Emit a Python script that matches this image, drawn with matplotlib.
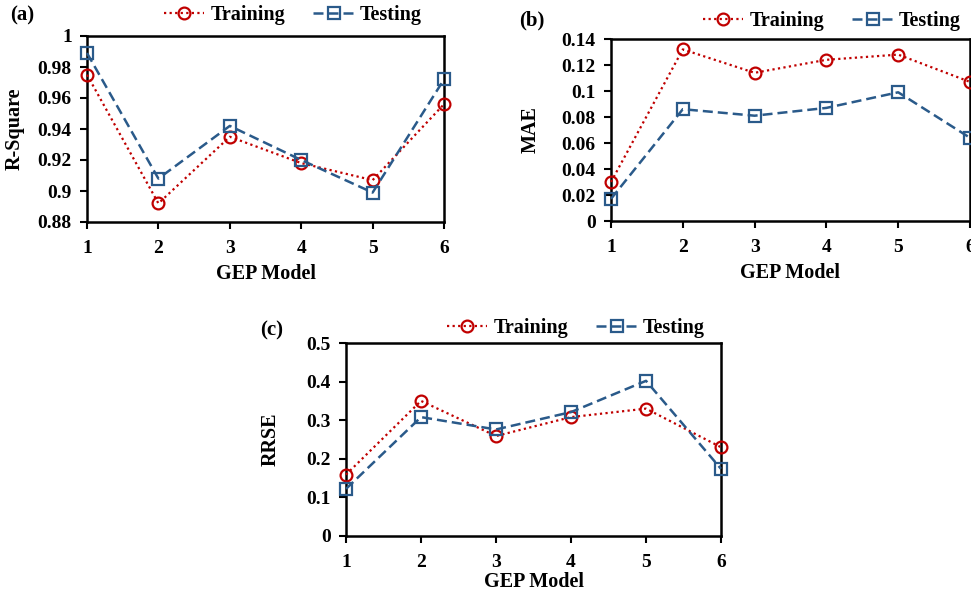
import matplotlib
matplotlib.use("Agg")
import matplotlib.pyplot as plt

plt.rcParams["font.family"] = ["Liberation Serif", "DejaVu Serif"]
plt.rcParams["font.weight"] = "bold"

models = [1, 2, 3, 4, 5, 6]

r2_train = [0.975, 0.892, 0.935, 0.918, 0.907, 0.956]
r2_test = [0.989, 0.908, 0.942, 0.920, 0.899, 0.972]

mae_train = [0.030, 0.132, 0.114, 0.124, 0.128, 0.107]
mae_test = [0.017, 0.086, 0.081, 0.087, 0.099, 0.064]

rrse_train = [0.159, 0.350, 0.259, 0.308, 0.330, 0.230]
rrse_test = [0.122, 0.308, 0.276, 0.321, 0.402, 0.174]

r2_ticks = [0.88, 0.9, 0.92, 0.94, 0.96, 0.98, 1.0]
r2_ticklabels = ["0.88", "0.9", "0.92", "0.94", "0.96", "0.98", "1"]
mae_ticks = [0, 0.02, 0.04, 0.06, 0.08, 0.1, 0.12, 0.14]
mae_ticklabels = ["0", "0.02", "0.04", "0.06", "0.08", "0.1", "0.12", "0.14"]
rrse_ticks = [0, 0.1, 0.2, 0.3, 0.4, 0.5]
rrse_ticklabels = ["0", "0.1", "0.2", "0.3", "0.4", "0.5"]

RED = "#C00000"
BLUE = "#2A5A8A"

W, H = 971, 594
fig = plt.figure(figsize=(W / 100, H / 100), dpi=100)


def px_axes(x0, y0, x1, y1):
    return fig.add_axes([x0 / W, 1 - y1 / H, (x1 - x0) / W, (y1 - y0) / H])


def panel(ax, train, test, ticks, ticklabels, ylabel, tag, leg_x, leg_y, tag_xy,
          ylab_right_px, xpad, xlabpad):
    ax.plot(models, train, color=RED, linestyle=(0, (1, 1.5)), linewidth=1.6,
            marker="o", markersize=8.5, markerfacecolor="none",
            markeredgecolor=RED, markeredgewidth=1.6, label="Training", clip_on=False, zorder=3)
    ax.plot(models, test, color=BLUE, linestyle=(0, (4, 2)), linewidth=1.8,
            marker="s", markersize=8.5, markerfacecolor="none",
            markeredgecolor=BLUE, markeredgewidth=1.6, label="Testing", clip_on=False, zorder=3)
    ax.set_xlim(1, 6)
    ax.set_ylim(ticks[0], ticks[-1])
    ax.set_xticks(models)
    ax.set_yticks(ticks)
    ax.set_yticklabels(ticklabels)
    ax.tick_params(axis="both", direction="out", length=5, width=1.5, labelsize=14)
    ax.tick_params(axis="y", pad=6)
    ax.tick_params(axis="x", pad=xpad)
    for lbl in ax.get_xticklabels() + ax.get_yticklabels():
        lbl.set_fontweight("bold")
    for s in ax.spines.values():
        s.set_linewidth(1.8)
    ax.set_xlabel("GEP Model", fontsize=14.5, fontweight="bold", labelpad=xlabpad)
    ax.set_ylabel(ylabel, fontsize=14.5, fontweight="bold")
    bbox = ax.get_position()
    x_axes = (ylab_right_px / W - bbox.x0) / bbox.width
    ax.yaxis.set_label_coords(x_axes, 0.5)
    leg = ax.legend(loc="center", bbox_to_anchor=(leg_x, leg_y), bbox_transform=fig.transFigure,
                    ncol=2, frameon=False, fontsize=14.5, handlelength=2.0,
                    columnspacing=1.4, handletextpad=0.3, borderpad=0)
    for t in leg.get_texts():
        t.set_fontweight("bold")
    fig.text(tag_xy[0] / W, 1 - tag_xy[1] / H, tag, fontsize=15, fontweight="bold",
             ha="left", va="center")


ax_a = px_axes(87, 36, 444, 222)
panel(ax_a, r2_train, r2_test, r2_ticks, r2_ticklabels, "R-Square", "(a)",
      293 / W, 1 - 15 / H, (10, 15), 25, 8, 5)

ax_b = px_axes(611, 39, 970, 221)
panel(ax_b, mae_train, mae_test, mae_ticks, mae_ticklabels, "MAE", "(b)",
      832 / W, 1 - 21 / H, (519, 20), 541, 8, 5)

ax_c = px_axes(346, 343, 721, 536)
panel(ax_c, rrse_train, rrse_test, rrse_ticks, rrse_ticklabels, "RRSE", "(c)",
      576 / W, 1 - 328 / H, (260, 330), 281, 8, 1)

fig.savefig("out.png", dpi=100)
